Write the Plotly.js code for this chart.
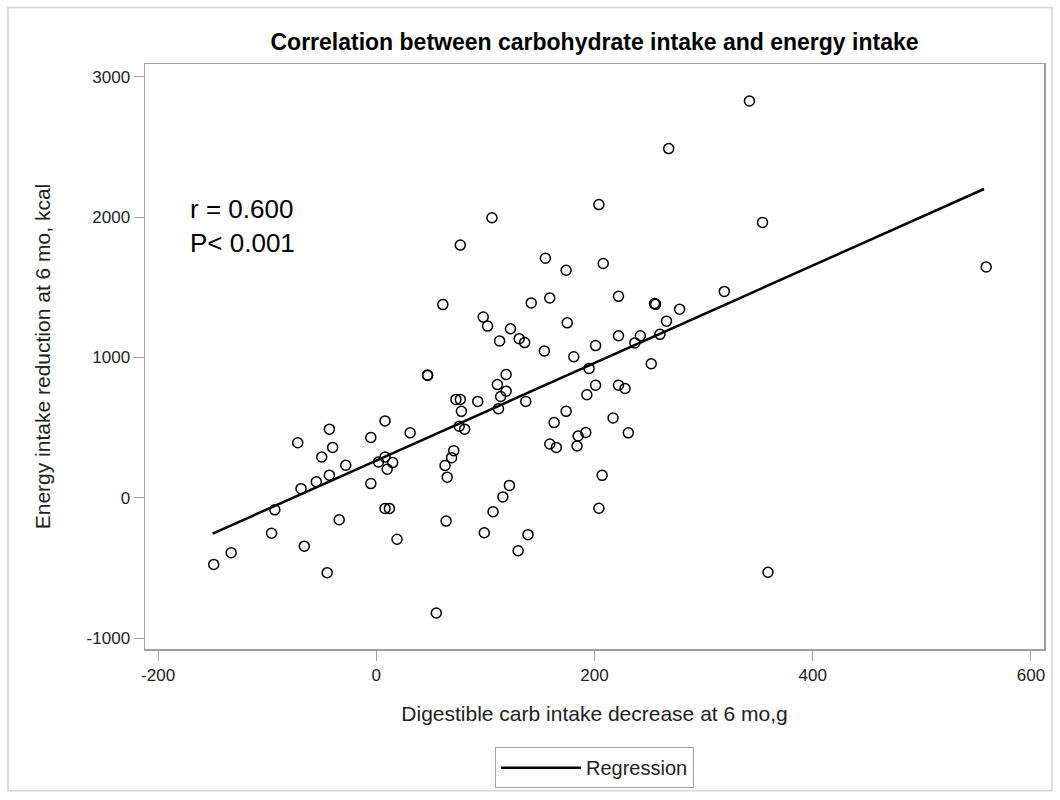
<!DOCTYPE html>
<html>
<head>
<meta charset="utf-8">
<script src="https://cdn.plot.ly/plotly-3.0.1.min.js"></script>
<style>html,body{margin:0;padding:0;background:#fff;}#chart{width:1060px;height:800px;}</style>
</head>
<body>
<div id="chart"></div>
<script>
// Digestible carb intake decrease at 6 mo (g)
const carbDecrease = [
  -149, -133, -96, -93, -66, -72, -69, -55, -50, -43,
  -40, -43, -28, -34, -45, -5, 8, -5, 8, 2,
  15, 10, 8, 12, 19, 77, 61, 47, 47, 31,
  55, 64, 65, 63, 69, 71, 73, 77, 78, 76,
  81, 93, 98, 102, 113, 111, 119, 119, 114, 112,
  99, 107, 116, 122, 130, 139, 137, 123, 131, 136,
  142, 154, 155, 159, 174, 175, 181, 208, 222, 222,
  201, 195, 201, 193, 222, 217, 174, 163, 159, 165,
  185, 192, 184, 207, 204, 106, 204, 268, 342, 354,
  559, 255, 256, 278, 319, 266, 242, 237, 260, 252,
  228, 231, 359
];
// Energy intake reduction at 6 mo (kcal)
const energyReduction = [
  -475, -392, -253, -86, -345, 392, 65, 114, 291, 489,
  359, 161, 232, -157, -534, 430, 548, 101, 290, 255,
  251, 204, -76, -76, -296, 1801, 1377, 875, 872, 463,
  -821, -166, 147, 230, 286, 336, 701, 701, 616, 510,
  489, 687, 1288, 1224, 1118, 807, 878, 760, 722, 635,
  -249, -100, 6, 88, -378, -263, 687, 1205, 1134, 1106,
  1389, 1047, 1707, 1424, 1622, 1247, 1005, 1670, 1436, 1155,
  1085, 922, 802, 734, 802, 569, 616, 536, 383, 359,
  440, 465, 369, 160, -75, 1996, 2090, 2489, 2828, 1963,
  1645, 1384, 1379, 1344, 1471, 1259, 1155, 1104, 1165, 955,
  779, 463, -531
];
// Regression line end points
const regX = [-150, 557];
const regY = [-256, 2201];

const xTicks = [-200, 0, 200, 400, 600];
const yTicks = [-1000, 0, 1000, 2000, 3000];

const FONT = 'Liberation Sans, Arial, sans-serif';
const axisCol = '#a0a0a0';

const traces = [
  {
    x: carbDecrease, y: energyReduction, type: 'scatter', mode: 'markers',
    marker: {symbol: 'circle-open', size: 10, color: '#000', line: {width: 1.5, color: '#000'}},
    showlegend: false, hoverinfo: 'x+y'
  },
  {
    x: regX, y: regY, type: 'scatter', mode: 'lines', name: 'Regression',
    line: {color: '#000', width: 2.5}
  }
];

const W = 1060, H = 800, L = 145, R = 16, T = 64, B = 146;
const pw = W - L - R, ph = H - T - B;
const px = v => (v - L) / pw;
const py = v => (H - B - v) / ph;

const layout = {
  width: W, height: H,
  margin: {l: L, r: R, t: T, b: B},
  paper_bgcolor: '#fff', plot_bgcolor: '#fff',
  font: {family: FONT, color: '#000'},
  title: {
    text: '<b>Correlation between carbohydrate intake and energy intake</b>',
    font: {family: FONT, size: 23, color: '#000'},
    x: 0.5, xref: 'paper', xanchor: 'center', y: 1 - 42 / H, yref: 'container', yanchor: 'middle'
  },
  xaxis: {
    range: [-212, 612], tickvals: xTicks, ticktext: xTicks.map(String),
    showgrid: false, zeroline: false, showline: true, mirror: true,
    linecolor: axisCol, linewidth: 1.5, ticks: 'outside', ticklen: 10, tickcolor: axisCol, tickwidth: 1,
    tickfont: {family: FONT, size: 17, color: '#222'},
    title: {text: 'Digestible carb intake decrease at 6 mo,g', font: {family: FONT, size: 21, color: '#222'}, standoff: 22}
  },
  yaxis: {
    range: [-1078, 3092], tickvals: yTicks, ticktext: yTicks.map(String),
    showgrid: false, zeroline: false, showline: true, mirror: true,
    linecolor: axisCol, linewidth: 1.5, ticks: 'outside', ticklen: 10, tickcolor: axisCol, tickwidth: 1,
    tickfont: {family: FONT, size: 17, color: '#222'},
    title: {text: 'Energy intake reduction at 6 mo, kcal', font: {family: FONT, size: 21, color: '#222'}, standoff: 30}
  },
  legend: {
    orientation: 'h', x: 0.5, xanchor: 'center', y: py(753), yanchor: 'top',
    bordercolor: axisCol, borderwidth: 1, bgcolor: '#fff',
    font: {family: FONT, size: 20, color: '#222'}, itemwidth: 80
  },
  annotations: [
    {text: 'r = 0.600', xref: 'paper', yref: 'paper', x: px(188), y: py(210), xanchor: 'left', yanchor: 'middle', showarrow: false, font: {family: FONT, size: 26, color: '#000'}},
    {text: 'P< 0.001', xref: 'paper', yref: 'paper', x: px(188), y: py(245), xanchor: 'left', yanchor: 'middle', showarrow: false, font: {family: FONT, size: 26, color: '#000'}}
  ],
  shapes: [
    {type: 'rect', xref: 'paper', yref: 'paper', x0: px(8), x1: px(1052), y0: py(797), y1: py(7), line: {color: '#d4d4d4', width: 1.5}, layer: 'below'}
  ]
};

Plotly.newPlot('chart', traces, layout, {displayModeBar: false, staticPlot: true});
</script>
</body>
</html>
